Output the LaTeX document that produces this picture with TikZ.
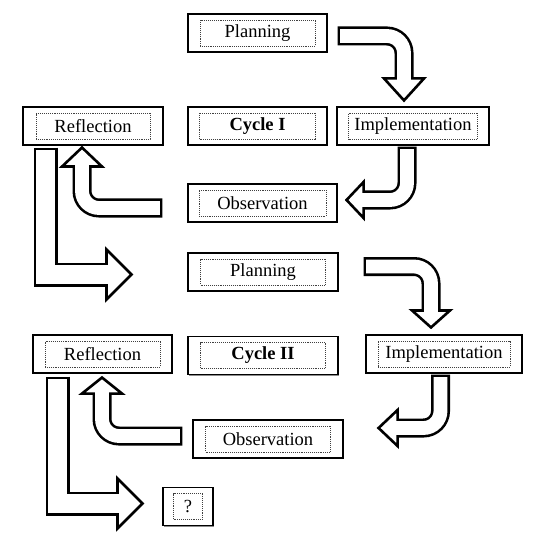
\documentclass[tikz,border=0pt]{standalone}
\usepackage{fontspec}
\setmainfont{Liberation Serif}
\usetikzlibrary{calc, shadows}

\begin{document}
\begin{tikzpicture}[x=1pt, y=-1pt,
      outer/.style={draw, line width=1.1pt, minimum height=38pt, inner sep=0pt, fill=white,
        drop shadow={shadow xshift=1.2pt, shadow yshift=-1.2pt, fill=black!45, opacity=1}},
      inner/.style={draw=black!75, densely dotted, line width=0.9pt, minimum height=26pt, inner sep=0pt,
        font=\fontsize{18.5}{22}\selectfont},
      rim/.style={draw=black, line cap=butt},
      body/.style={draw=white, line cap=butt, shorten <=2.6pt, shorten >=-3pt},
      tiphead/.style={draw=black, fill=white, line width=2.6pt, line join=miter}]
    \useasboundingbox (0,0) rectangle (544,545);
    \foreach \n/\x/\y/\ow/\iw/\t in {plan1/257.5/33/139/115/Planning, refl1/93/126/140/114/Reflection,
        cyc1/257.5/126/139/116/{\bfseries Cycle I}, impl1/413/126/152/129/Implementation,
        obs1/262.5/203/149/127/Observation, plan2/263/272/150/125/Planning,
        cyc2/263/355.5/150/125/{\bfseries Cycle II}, impl2/444/354/156/132/Implementation,
        obs2/268/439/150/125/Observation, refl2/102.5/354/139/115/Reflection, q/188/506.5/50/29/?} {
      \node[outer, minimum width=\ow pt] (\n) at (\x,\y) {};
      \node[inner, minimum width=\iw pt] (\n-in) at (\x,\y) {\t};
    }
    \coordinate (s1) at ($(plan1.east)+(10,3)$);
    \coordinate (b1) at ($(impl1.north)+(-9,-28)$);
    \coordinate (t1) at ($(impl1.north)+(-9,-6)$);
    \coordinate (s2) at ($(impl1.south)+(-6,1)$);
    \coordinate (b2) at ($(obs1.east)+(26,-3)$);
    \coordinate (t2) at ($(obs1.east)+(9,-3)$);
    \coordinate (s3) at ($(obs1.west)+(-25,5)$);
    \coordinate (b3) at ($(refl1.south)+(-11,21)$);
    \coordinate (t3) at ($(refl1.south)+(-11,2)$);
    \coordinate (s4) at ($(refl1.south)+(-47.5,2)$);
    \coordinate (b4) at ($(plan2.west)+(-81,2.5)$);
    \coordinate (t4) at ($(plan2.west)+(-56,2.5)$);
    \coordinate (s5) at ($(plan2.east)+(25,-5.5)$);
    \coordinate (b5) at ($(impl2.north)+(-13,-24)$);
    \coordinate (t5) at ($(impl2.north)+(-13,-7)$);
    \coordinate (s6) at ($(impl2.south)+(-3.5,1)$);
    \coordinate (b6) at ($(obs2.east)+(54,-11)$);
    \coordinate (t6) at ($(obs2.east)+(35,-11)$);
    \coordinate (s7) at ($(obs2.west)+(-10,-3)$);
    \coordinate (b7) at ($(refl2.south)+(-0.5,20)$);
    \coordinate (t7) at ($(refl2.south)+(-0.5,4)$);
    \coordinate (s8) at ($(refl2.south)+(-45,3)$);
    \coordinate (b8) at ($(q.west)+(-45,-3)$);
    \coordinate (t8) at ($(q.west)+(-20,-3)$);
    \foreach \i/\r/\w/\v/\h/\c in {1/-|/19/13.8/20/17, 2/|-/19/13.8/18/17, 3/-|/19/13.8/20/17,
        4/|-/24/18.8/25/0, 5/-|/19/13.8/19/17, 6/|-/19/13.8/18/17, 7/-|/19/13.8/20/17,
        8/|-/24/18.8/25/0} {
      \draw[rim, line width=\w pt, rounded corners=\c pt] (s\i) \r (b\i);
      \draw[tiphead] ($(b\i)!\h pt!90:(t\i)$) -- (t\i) -- ($(b\i)!\h pt!-90:(t\i)$) -- cycle;
      \draw[body, line width=\v pt, rounded corners=\c pt] (s\i) \r (b\i);
    }
  \end{tikzpicture}
\end{document}
